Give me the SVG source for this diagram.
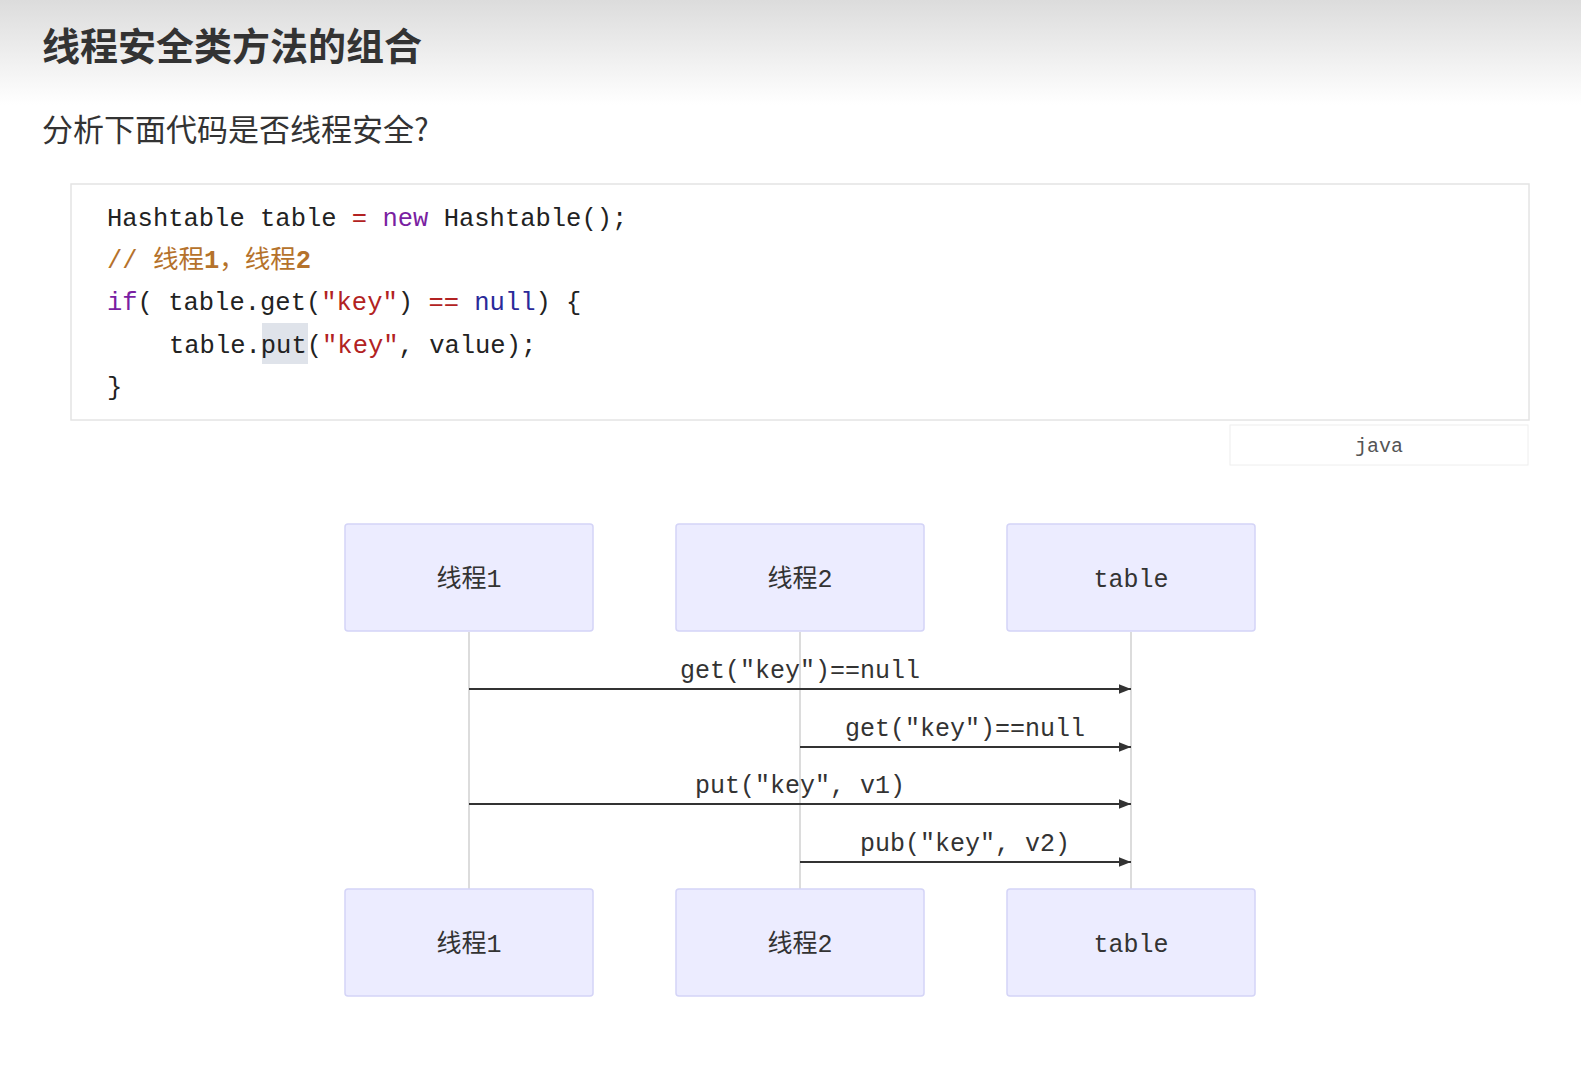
<svg xmlns="http://www.w3.org/2000/svg" width="1581" height="1086" viewBox="0 0 1581 1086">
<defs>
<linearGradient id="hg" x1="0" y1="0" x2="0" y2="1"><stop offset="0" stop-color="#dcdcdc"/><stop offset="1" stop-color="#ffffff"/></linearGradient>
<marker id="ah" viewBox="0 0 10 10" refX="10" refY="5" markerWidth="12" markerHeight="12" markerUnits="userSpaceOnUse" orient="auto"><path d="M0,1 L10,5 L0,9 z" fill="#333"/></marker>
</defs>
<style>
.code{font-family:"Liberation Mono","Noto Sans CJK SC",monospace;font-size:25.5px;fill:#222}
.kw{fill:#7a1fa2}.op{fill:#b22222}.str{fill:#b22222}.nl{fill:#2a2a9a}.cm{fill:#b5722b}
.box{fill:#ececff;stroke:#d4d4f7;stroke-width:1.5}
.bt{font-family:"Liberation Mono","Noto Sans CJK SC",monospace;font-size:25px;fill:#333;text-anchor:middle}
.ml{font-family:"Liberation Mono",monospace;font-size:25px;fill:#333;text-anchor:middle}
.life{stroke:#d0d0d0;stroke-width:1.5}
.msg{stroke:#333;stroke-width:2;marker-end:url(#ah)}
</style>
<rect width="1581" height="1086" fill="#fff"/>
<rect width="1581" height="105" fill="url(#hg)"/>
<text x="42" y="60" font-family="Noto Sans CJK SC,sans-serif" font-size="38" font-weight="bold" fill="#333">线程安全类方法的组合</text>
<text x="42" y="141" font-family="Noto Sans CJK SC,sans-serif" font-size="31" fill="#333">分析下面代码是否线程安全?</text>
<rect x="71" y="184" width="1458" height="236" fill="#fff" stroke="#e4e4e4" stroke-width="1.5"/>
<rect x="262" y="323" width="46" height="41" fill="#dfe3ea"/>
<text class="code" x="107" y="226">Hashtable table <tspan class="op">=</tspan> <tspan class="kw">new</tspan> Hashtable();</text>
<text class="code cm" x="107" y="268">// 线程<tspan font-weight="bold">1</tspan>，线程<tspan font-weight="bold">2</tspan></text>
<text class="code" x="107" y="310"><tspan class="kw">if</tspan>( table.get(<tspan class="str">"key"</tspan>) <tspan class="op">==</tspan> <tspan class="nl">null</tspan>) {</text>
<text class="code" x="169" y="353">table.put(<tspan class="str">"key"</tspan>, value);</text>
<text class="code" x="107" y="395">}</text>
<rect x="1230" y="425" width="298" height="40" fill="#fff" stroke="#eee"/>
<text x="1379" y="452" font-family="Liberation Mono,monospace" font-size="20" fill="#555" text-anchor="middle">java</text>
<g id="connectors">
<line class="life" x1="469" y1="632" x2="469" y2="889"/>
<line class="life" x1="800" y1="632" x2="800" y2="889"/>
<line class="life" x1="1131" y1="632" x2="1131" y2="889"/>
<line class="msg" x1="469" y1="689" x2="1131" y2="689"/>
<text class="ml" x="800" y="678">get("key")==null</text>
<line class="msg" x1="800" y1="747" x2="1131" y2="747"/>
<text class="ml" x="965" y="736">get("key")==null</text>
<line class="msg" x1="469" y1="804" x2="1131" y2="804"/>
<text class="ml" x="800" y="793">put("key", v1)</text>
<line class="msg" x1="800" y1="862" x2="1131" y2="862"/>
<text class="ml" x="965" y="851">pub("key", v2)</text>
</g>
<g id="t1-top"><rect class="box" x="345" y="524" width="248" height="107" rx="3"/><text class="bt" x="469" y="587">线程1</text></g>
<g id="t2-top"><rect class="box" x="676" y="524" width="248" height="107" rx="3"/><text class="bt" x="800" y="587">线程2</text></g>
<g id="table-top"><rect class="box" x="1007" y="524" width="248" height="107" rx="3"/><text class="bt" x="1131" y="587">table</text></g>
<g id="t1-bot"><rect class="box" x="345" y="889" width="248" height="107" rx="3"/><text class="bt" x="469" y="952">线程1</text></g>
<g id="t2-bot"><rect class="box" x="676" y="889" width="248" height="107" rx="3"/><text class="bt" x="800" y="952">线程2</text></g>
<g id="table-bot"><rect class="box" x="1007" y="889" width="248" height="107" rx="3"/><text class="bt" x="1131" y="952">table</text></g>
</svg>
